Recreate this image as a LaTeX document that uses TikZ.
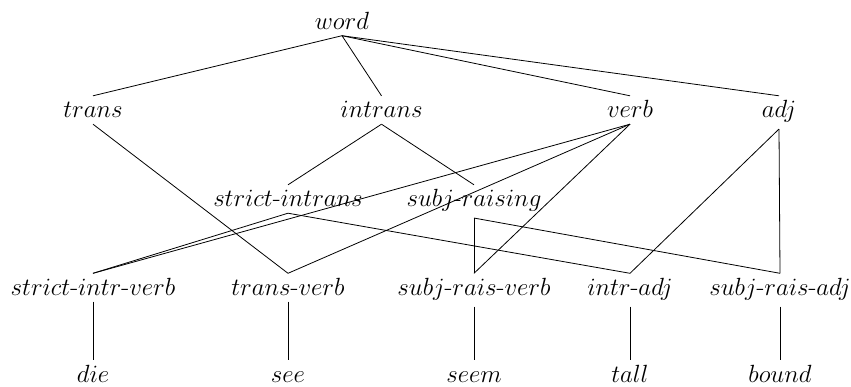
\documentclass[tikz,border=0pt]{standalone}
\newcommand{\hy}{\mbox{-}}
\begin{document}
\begin{tikzpicture}[x=1pt,y=-1pt,
  lbl/.style={anchor=base,text height=18pt,inner xsep=2pt,inner ysep=3.5pt,font=\fontsize{26}{30}\selectfont},
  edge/.style={line width=0.8pt}]
\useasboundingbox (0,0) rectangle (851,386);
\node[lbl] (word) at (342,29) {$word$};
\node[lbl] (trans) at (93,117.5) {$trans$};
\node[lbl] (intrans) at (381.5,117.5) {$intrans$};
\node[lbl] (verb) at (630,117.5) {$verb$};
\node[lbl] (adj) at (779,117.5) {$adj$};
\node[lbl] (sint) at (288,206.5) {$strict\hy intrans$};
\node[lbl] (sr) at (474,206.5) {$subj\hy raising$};
\node[lbl] (siv) at (93,295) {$strict\hy intr\hy verb$};
\node[lbl] (tv) at (288,295) {$trans\hy verb$};
\node[lbl] (srv) at (474,295) {$subj\hy rais\hy verb$};
\node[lbl] (ia) at (630,295) {$intr\hy adj$};
\node[lbl] (sra) at (780,295) {$subj\hy rais\hy adj$};
\node[lbl] (die) at (93,382) {$die$};
\node[lbl] (see) at (288,382) {$see$};
\node[lbl] (seem) at (474,382) {$seem$};
\node[lbl] (tall) at (630,382) {$tall$};
\node[lbl] (bound) at (780,382) {$bound$};
\tikzset{bot/.style={yshift=-3pt}}
\draw[edge] ([bot]word.south) -- (trans.north);
\draw[edge] ([bot]word.south) -- (intrans.north);
\draw[edge] ([bot]word.south) -- (verb.north);
\draw[edge] ([bot]word.south) -- (adj.north);
\draw[edge] ([bot]trans.south) -- (tv.north);
\draw[edge] ([bot]intrans.south) -- (sint.north);
\draw[edge] ([bot]intrans.south) -- (sr.north);
\draw[edge] ([bot]verb.south) -- (siv.north);
\draw[edge] ([bot]verb.south) -- (tv.north);
\draw[edge] ([bot]verb.south) -- (srv.north);
\draw[edge] ([bot]adj.south) -- (ia.north);
\draw[edge] ([bot]adj.south) -- (sra.north);
\draw[edge] ([bot]sint.south) -- (siv.north);
\draw[edge] ([bot]sint.south) -- (ia.north);
\draw[edge] ([bot]sr.south) -- (srv.north);
\draw[edge] ([bot]sr.south) -- (sra.north);
\draw[edge] ([bot]siv.south) -- (die.north);
\draw[edge] ([bot]tv.south) -- (see.north);
\draw[edge] ([bot]srv.south) -- (seem.north);
\draw[edge] ([bot]ia.south) -- (tall.north);
\draw[edge] ([bot]sra.south) -- (bound.north);
\end{tikzpicture}
\end{document}
